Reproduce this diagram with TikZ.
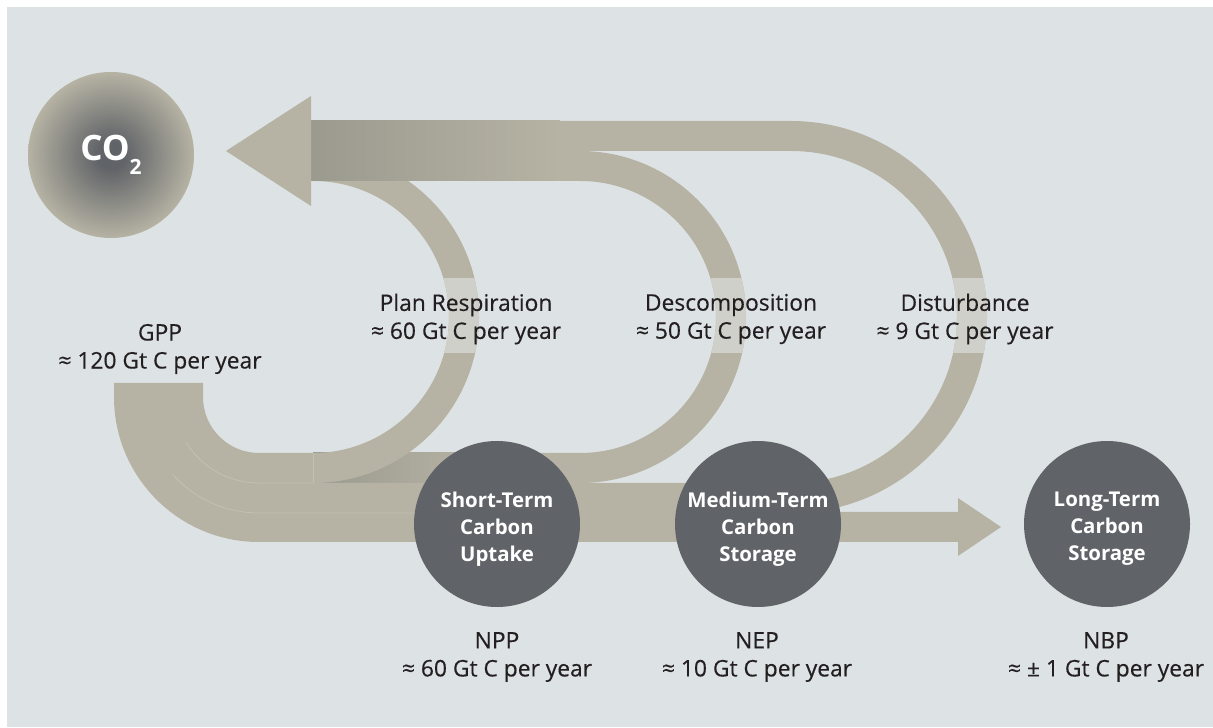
\documentclass[tikz,border=0pt]{standalone}
\usepackage{fontspec}
\setmainfont{Open Sans}
\newfontfamily\labelfont{Open Sans}[FakeBold=0.35]
\usetikzlibrary{positioning}
\definecolor{bggray}{RGB}{221,226,228}
\definecolor{tan}{RGB}{182,179,164}
\definecolor{tanlight}{RGB}{207,208,201}
\definecolor{tandark}{RGB}{155,154,143}
\definecolor{pooldark}{RGB}{96,99,103}
\definecolor{textdark}{RGB}{35,31,32}
\pgfdeclareradialshading{cotwo}{\pgfpoint{0bp}{0bp}}{color(0bp)=(pooldark); color(4bp)=(pooldark); color(25bp)=(tan); color(50bp)=(tan)}

% flow bands (1 unit = 1 px of the layout, y upwards)
\newcommand\distpath{(311,606) -- (791,606) arc[start angle=90, end angle=-90, radius=98pt] -- (791,244) arc[start angle=-90, end angle=90, radius=83pt] -- (311,576) -- cycle}
\newcommand\decpath{(311,576) -- (580,576) arc[start angle=90, end angle=-90, radius=83pt] -- (313,244) -- (313,274) -- (580,274) arc[start angle=-90, end angle=90, radius=68pt] -- (311,546) -- cycle}
\newcommand\respath{(313,244) arc[start angle=-90, end angle=90, radius=83pt] -- (313,546) arc[start angle=90, end angle=-90, radius=68pt] -- cycle}
\newcommand\gpppath{(114,344) -- (114,330) arc[start angle=180, end angle=270, radius=72.5pt] -- (791,185) -- (791,244) -- (313,244) -- (313,274) -- (259,274) arc[start angle=270, end angle=180, radius=28pt] -- (203,344) -- cycle}

\begin{document}
\begin{tikzpicture}[
  x=0.5pt, y=0.5pt,
  font=\labelfont\fontsize{11.4}{14}\selectfont,
  band/.style={fill=tan},
  seam/.style={draw=white, opacity=0.18, line width=0.4pt},
  pool/.style={circle, fill=pooldark, minimum size=83pt, inner sep=0pt},
  pooltext/.style={align=center, inner sep=0pt, text=white, font=\rmfamily\fontsize{10.2}{13.5}\selectfont\bfseries},
  lbl/.style={align=center, inner sep=0pt, text=textdark}
]
  \useasboundingbox (0,0) rectangle (1213,727);
  \fill[white] (0,0) rectangle (1213,727);
  \fill[bggray] (7,0) rectangle (1213,720);

  % returning fluxes
  \fill[band] \distpath;
  \fill[band] \decpath;
  \shade[left color=tandark, right color=tan] (313,244) rectangle (480,274);
  \fill[band] \gpppath;
  \fill[band] \respath;
  \shade[left color=tandark, right color=tan] (311,546) rectangle (560,606);
  \fill[band] (311,631) -- (226,576) -- (311,521) -- cycle;

  % lighter zone behind the flux labels
  \begin{scope}
    \clip (330,374) rectangle (1000,448);
    \fill[tanlight] \respath;
    \fill[tanlight] \decpath;
    \fill[tanlight] \distpath;
  \end{scope}

  % NBP arrow
  \fill[band] (791,185) -- (958,185) -- (958,171) -- (1001,200) -- (958,229) -- (958,215) -- (791,215) -- cycle;

  % seams inside the GPP band
  \draw[seam] (259,330) ++(212:43pt) arc[start angle=212, end angle=270, radius=43pt] -- (313,244);
  \draw[seam] (259,330) ++(222:58pt) arc[start angle=222, end angle=270, radius=58pt] -- (430,214);
  \draw[seam] (313,244) -- (313,274);

  % pools
  \node[circle, shading=cotwo, minimum size=83pt, inner sep=0pt, text=white, font=\rmfamily\fontsize{17.5}{18}\selectfont\bfseries] (co2) at (111,572) {CO\raisebox{-0.7ex}{\fontsize{10.5}{11}\selectfont 2}};
  \node[pool] (short)  at (497,203)  {};
  \node[pool] (medium) at (758,203)  {};
  \node[pool] (long)   at (1107,203) {};
  \node[pooltext] (shorttxt)  at ([yshift=-2.5pt]short.center)  {Short-Term\\Carbon\\Uptake};
  \node[pooltext] (mediumtxt) at ([yshift=-2.5pt]medium.center) {Medium-Term\\Carbon\\Storage};
  \node[pooltext] (longtxt)   at ([yshift=-2.5pt]long.center)   {Long-Term\\Carbon\\Storage};

  % labels
  \node[lbl] (gpp)    at (160,378)  {GPP\\≈ 120 Gt C per year};
  \node[lbl] (resp)   at (466,408)  {Plan Respiration\\≈ 60 Gt C per year};
  \node[lbl] (decomp) at (731,408)  {Descomposition\\≈ 50 Gt C per year};
  \node[lbl] (dist)   at (965,408)  {Disturbance\\≈ 9 Gt C per year};
  \node[lbl] (npp)    at (497,70)   {NPP\\≈ 60 Gt C per year};
  \node[lbl] (nep)    at (757,70)   {NEP\\≈ 10 Gt C per year};
  \node[lbl] (nbp)    at (1106,70)  {NBP\\≈ ± 1 Gt C per year};
\end{tikzpicture}
\end{document}
